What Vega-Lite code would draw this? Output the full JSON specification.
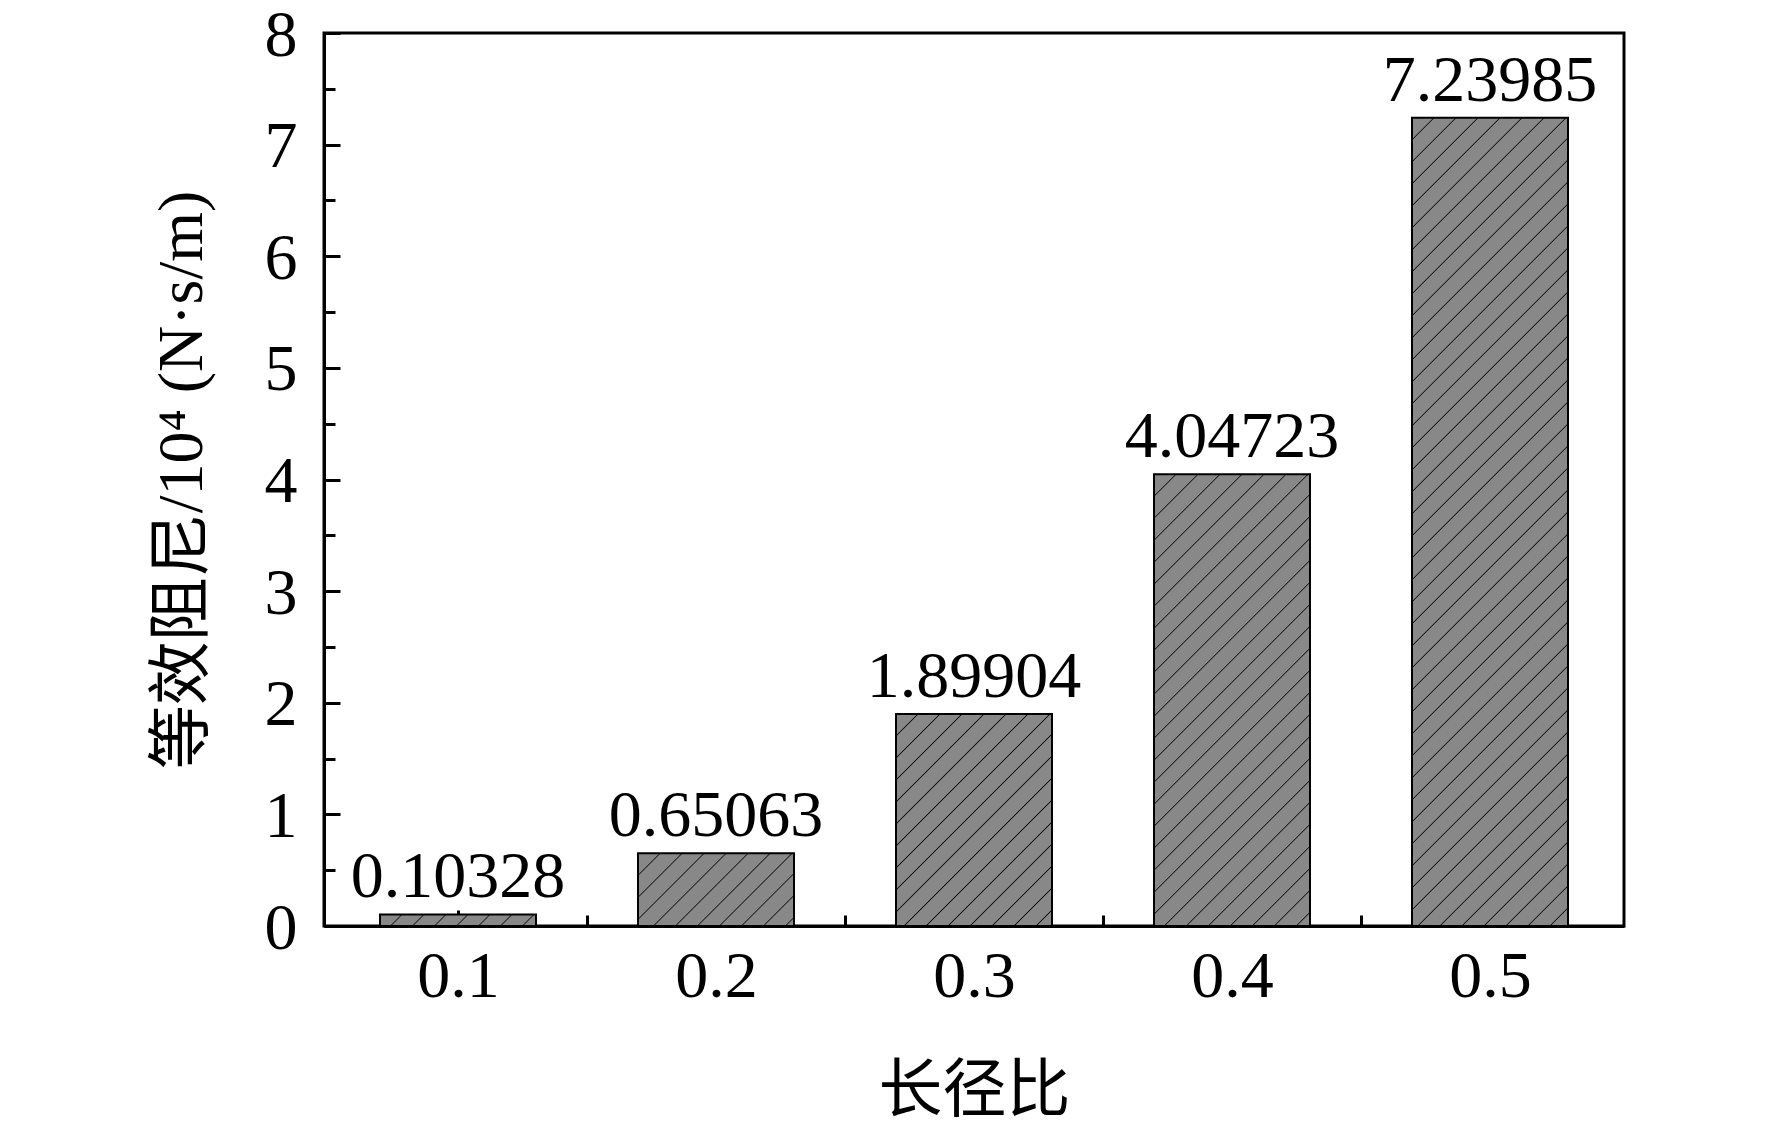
{
  "$schema": "https://vega.github.io/schema/vega-lite/v6.json",
  "autosize": {"type": "none"},
  "padding": {"left": 324, "top": 33, "right": 148, "bottom": 199},
  "width": 1300,
  "height": 893,
  "background": "white",
  "config": {
    "view": {"stroke": "black", "strokeWidth": 3},
    "axis": {
      "domainColor": "black", "domainWidth": 3,
      "tickColor": "black", "tickWidth": 3,
      "labelFont": "Liberation Serif", "labelFontSize": 66, "labelColor": "black",
      "titleFont": "Liberation Serif, Noto Sans CJK SC", "titleFontSize": 64, "titleFontWeight": "normal", "titleColor": "black",
      "grid": false, "labelFlush": false, "labelOverlap": false
    }
  },
  "data": {"values": [
    {"ratio": 0.1, "value": 0.10328},
    {"ratio": 0.2, "value": 0.65063},
    {"ratio": 0.3, "value": 1.89904},
    {"ratio": 0.4, "value": 4.04723},
    {"ratio": 0.5, "value": 7.23985}
  ]},
  "encoding": {
    "x": {"field": "ratio", "type": "quantitative", "title": "长径比",
      "scale": {"domain": [0.05, 0.55], "nice": false, "zero": false},
      "axis": {"values": [0.1, 0.15, 0.2, 0.25, 0.3, 0.35, 0.4, 0.45, 0.5], "format": ".2~f",
        "labelExpr": "length(datum.label) > 3 ? '' : datum.label",
        "tickSize": {"expr": "abs(datum.value * 10 - round(datum.value * 10)) > 0.01 ? -11 : -16"},
        "labelPadding": 34, "titlePadding": 45}},
    "y": {"field": "value", "type": "quantitative", "title": "等效阻尼/10⁴ (N·s/m)",
      "scale": {"domain": [0, 8], "nice": false},
      "axis": {"values": [0, 0.5, 1, 1.5, 2, 2.5, 3, 3.5, 4, 4.5, 5, 5.5, 6, 6.5, 7, 7.5, 8], "format": ".0f",
        "labelExpr": "datum.value % 1 ? '' : datum.label",
        "tickSize": {"expr": "datum.value % 1 ? -11 : -16"},
        "labelPadding": 43, "labelOffset": 2, "titlePadding": 50}}
  },
  "layer": [
    {"transform": [{"filter": "datum.ratio === 0.1"}],
     "mark": {"type": "bar", "orient": "vertical", "width": 156, "stroke": "black", "strokeWidth": 2,
       "fill": {"gradient": "linear", "x1": 0, "y1": 0, "x2": 1.0679, "y2": 0.07892, "stops": [
         {"offset":0.12418,"color":"#888888"},{"offset":0.13134,"color":"#111111"},{"offset":0.13851,"color":"#888888"},
         {"offset":0.25552,"color":"#888888"},{"offset":0.26269,"color":"#111111"},{"offset":0.26985,"color":"#888888"},
         {"offset":0.38687,"color":"#888888"},{"offset":0.39403,"color":"#111111"},{"offset":0.40119,"color":"#888888"},
         {"offset":0.51821,"color":"#888888"},{"offset":0.52537,"color":"#111111"},{"offset":0.53254,"color":"#888888"},
         {"offset":0.64955,"color":"#888888"},{"offset":0.65672,"color":"#111111"},{"offset":0.66388,"color":"#888888"},
         {"offset":0.78090,"color":"#888888"},{"offset":0.78806,"color":"#111111"},{"offset":0.79522,"color":"#888888"},
         {"offset":0.91224,"color":"#888888"},{"offset":0.91940,"color":"#111111"},{"offset":0.92657,"color":"#888888"}
       ]}}},
    {"transform": [{"filter": "datum.ratio === 0.2"}],
     "mark": {"type": "bar", "orient": "vertical", "width": 156, "stroke": "black", "strokeWidth": 2,
       "fill": {"gradient": "linear", "x1": 0, "y1": 0, "x2": 1.20449, "y2": 0.56074, "stops": [
         {"offset":0.09099,"color":"#888888"},{"offset":0.09624,"color":"#111111"},{"offset":0.10149,"color":"#888888"},
         {"offset":0.18723,"color":"#888888"},{"offset":0.19248,"color":"#111111"},{"offset":0.19773,"color":"#888888"},
         {"offset":0.28346,"color":"#888888"},{"offset":0.28871,"color":"#111111"},{"offset":0.29396,"color":"#888888"},
         {"offset":0.37970,"color":"#888888"},{"offset":0.38495,"color":"#111111"},{"offset":0.39020,"color":"#888888"},
         {"offset":0.47594,"color":"#888888"},{"offset":0.48119,"color":"#111111"},{"offset":0.48644,"color":"#888888"},
         {"offset":0.57218,"color":"#888888"},{"offset":0.57743,"color":"#111111"},{"offset":0.58268,"color":"#888888"},
         {"offset":0.66842,"color":"#888888"},{"offset":0.67367,"color":"#111111"},{"offset":0.67892,"color":"#888888"},
         {"offset":0.76465,"color":"#888888"},{"offset":0.76990,"color":"#111111"},{"offset":0.77515,"color":"#888888"},
         {"offset":0.86089,"color":"#888888"},{"offset":0.86614,"color":"#111111"},{"offset":0.87139,"color":"#888888"},
         {"offset":0.95713,"color":"#888888"},{"offset":0.96238,"color":"#111111"},{"offset":0.96763,"color":"#888888"}
       ]}}},
    {"transform": [{"filter": "datum.ratio === 0.3"}],
     "mark": {"type": "bar", "orient": "vertical", "width": 156, "stroke": "black", "strokeWidth": 2,
       "fill": {"gradient": "linear", "x1": 0, "y1": 0, "x2": 0.82869, "y2": 1.12607, "stops": [
         {"offset":0.05652,"color":"#888888"},{"offset":0.05978,"color":"#111111"},{"offset":0.06304,"color":"#888888"},
         {"offset":0.11631,"color":"#888888"},{"offset":0.11957,"color":"#111111"},{"offset":0.12283,"color":"#888888"},
         {"offset":0.17609,"color":"#888888"},{"offset":0.17935,"color":"#111111"},{"offset":0.18261,"color":"#888888"},
         {"offset":0.23587,"color":"#888888"},{"offset":0.23913,"color":"#111111"},{"offset":0.24239,"color":"#888888"},
         {"offset":0.29565,"color":"#888888"},{"offset":0.29891,"color":"#111111"},{"offset":0.30217,"color":"#888888"},
         {"offset":0.35544,"color":"#888888"},{"offset":0.35870,"color":"#111111"},{"offset":0.36196,"color":"#888888"},
         {"offset":0.41522,"color":"#888888"},{"offset":0.41848,"color":"#111111"},{"offset":0.42174,"color":"#888888"},
         {"offset":0.47500,"color":"#888888"},{"offset":0.47826,"color":"#111111"},{"offset":0.48152,"color":"#888888"},
         {"offset":0.53478,"color":"#888888"},{"offset":0.53804,"color":"#111111"},{"offset":0.54130,"color":"#888888"},
         {"offset":0.59457,"color":"#888888"},{"offset":0.59783,"color":"#111111"},{"offset":0.60109,"color":"#888888"},
         {"offset":0.65435,"color":"#888888"},{"offset":0.65761,"color":"#111111"},{"offset":0.66087,"color":"#888888"},
         {"offset":0.71413,"color":"#888888"},{"offset":0.71739,"color":"#111111"},{"offset":0.72065,"color":"#888888"},
         {"offset":0.77391,"color":"#888888"},{"offset":0.77717,"color":"#111111"},{"offset":0.78043,"color":"#888888"},
         {"offset":0.83370,"color":"#888888"},{"offset":0.83696,"color":"#111111"},{"offset":0.84022,"color":"#888888"},
         {"offset":0.89348,"color":"#888888"},{"offset":0.89674,"color":"#111111"},{"offset":0.90000,"color":"#888888"},
         {"offset":0.95326,"color":"#888888"},{"offset":0.95652,"color":"#111111"},{"offset":0.95978,"color":"#888888"}
       ]}}},
    {"transform": [{"filter": "datum.ratio === 0.4"}],
     "mark": {"type": "bar", "orient": "vertical", "width": 156, "stroke": "black", "strokeWidth": 2,
       "fill": {"gradient": "linear", "x1": 0, "y1": 0, "x2": 0.41505, "y2": 1.20198, "stops": [
         {"offset":0.03422,"color":"#888888"},{"offset":0.03620,"color":"#111111"},{"offset":0.03817,"color":"#888888"},
         {"offset":0.07042,"color":"#888888"},{"offset":0.07239,"color":"#111111"},{"offset":0.07437,"color":"#888888"},
         {"offset":0.10661,"color":"#888888"},{"offset":0.10859,"color":"#111111"},{"offset":0.11056,"color":"#888888"},
         {"offset":0.14281,"color":"#888888"},{"offset":0.14478,"color":"#111111"},{"offset":0.14676,"color":"#888888"},
         {"offset":0.17901,"color":"#888888"},{"offset":0.18098,"color":"#111111"},{"offset":0.18295,"color":"#888888"},
         {"offset":0.21520,"color":"#888888"},{"offset":0.21718,"color":"#111111"},{"offset":0.21915,"color":"#888888"},
         {"offset":0.25140,"color":"#888888"},{"offset":0.25337,"color":"#111111"},{"offset":0.25535,"color":"#888888"},
         {"offset":0.28760,"color":"#888888"},{"offset":0.28957,"color":"#111111"},{"offset":0.29154,"color":"#888888"},
         {"offset":0.32379,"color":"#888888"},{"offset":0.32576,"color":"#111111"},{"offset":0.32774,"color":"#888888"},
         {"offset":0.35999,"color":"#888888"},{"offset":0.36196,"color":"#111111"},{"offset":0.36393,"color":"#888888"},
         {"offset":0.39618,"color":"#888888"},{"offset":0.39816,"color":"#111111"},{"offset":0.40013,"color":"#888888"},
         {"offset":0.43238,"color":"#888888"},{"offset":0.43435,"color":"#111111"},{"offset":0.43633,"color":"#888888"},
         {"offset":0.46858,"color":"#888888"},{"offset":0.47055,"color":"#111111"},{"offset":0.47252,"color":"#888888"},
         {"offset":0.50477,"color":"#888888"},{"offset":0.50675,"color":"#111111"},{"offset":0.50872,"color":"#888888"},
         {"offset":0.54097,"color":"#888888"},{"offset":0.54294,"color":"#111111"},{"offset":0.54492,"color":"#888888"},
         {"offset":0.57716,"color":"#888888"},{"offset":0.57914,"color":"#111111"},{"offset":0.58111,"color":"#888888"},
         {"offset":0.61336,"color":"#888888"},{"offset":0.61533,"color":"#111111"},{"offset":0.61731,"color":"#888888"},
         {"offset":0.64956,"color":"#888888"},{"offset":0.65153,"color":"#111111"},{"offset":0.65350,"color":"#888888"},
         {"offset":0.68575,"color":"#888888"},{"offset":0.68773,"color":"#111111"},{"offset":0.68970,"color":"#888888"},
         {"offset":0.72195,"color":"#888888"},{"offset":0.72392,"color":"#111111"},{"offset":0.72590,"color":"#888888"},
         {"offset":0.75814,"color":"#888888"},{"offset":0.76012,"color":"#111111"},{"offset":0.76209,"color":"#888888"},
         {"offset":0.79434,"color":"#888888"},{"offset":0.79631,"color":"#111111"},{"offset":0.79829,"color":"#888888"},
         {"offset":0.83054,"color":"#888888"},{"offset":0.83251,"color":"#111111"},{"offset":0.83448,"color":"#888888"},
         {"offset":0.86673,"color":"#888888"},{"offset":0.86871,"color":"#111111"},{"offset":0.87068,"color":"#888888"},
         {"offset":0.90293,"color":"#888888"},{"offset":0.90490,"color":"#111111"},{"offset":0.90688,"color":"#888888"},
         {"offset":0.93912,"color":"#888888"},{"offset":0.94110,"color":"#111111"},{"offset":0.94307,"color":"#888888"},
         {"offset":0.97532,"color":"#888888"},{"offset":0.97730,"color":"#111111"},{"offset":0.97927,"color":"#888888"}
       ]}}},
    {"transform": [{"filter": "datum.ratio === 0.5"}],
     "mark": {"type": "bar", "orient": "vertical", "width": 156, "stroke": "black", "strokeWidth": 2,
       "fill": {"gradient": "linear", "x1": 0, "y1": 0, "x2": 0.22202, "y2": 1.15017, "stops": [
         {"offset":0.02157,"color":"#888888"},{"offset":0.02282,"color":"#111111"},{"offset":0.02407,"color":"#888888"},
         {"offset":0.04439,"color":"#888888"},{"offset":0.04564,"color":"#111111"},{"offset":0.04689,"color":"#888888"},
         {"offset":0.06721,"color":"#888888"},{"offset":0.06846,"color":"#111111"},{"offset":0.06971,"color":"#888888"},
         {"offset":0.09003,"color":"#888888"},{"offset":0.09128,"color":"#111111"},{"offset":0.09253,"color":"#888888"},
         {"offset":0.11285,"color":"#888888"},{"offset":0.11410,"color":"#111111"},{"offset":0.11535,"color":"#888888"},
         {"offset":0.13567,"color":"#888888"},{"offset":0.13692,"color":"#111111"},{"offset":0.13817,"color":"#888888"},
         {"offset":0.15848,"color":"#888888"},{"offset":0.15973,"color":"#111111"},{"offset":0.16098,"color":"#888888"},
         {"offset":0.18130,"color":"#888888"},{"offset":0.18255,"color":"#111111"},{"offset":0.18380,"color":"#888888"},
         {"offset":0.20412,"color":"#888888"},{"offset":0.20537,"color":"#111111"},{"offset":0.20662,"color":"#888888"},
         {"offset":0.22694,"color":"#888888"},{"offset":0.22819,"color":"#111111"},{"offset":0.22944,"color":"#888888"},
         {"offset":0.24976,"color":"#888888"},{"offset":0.25101,"color":"#111111"},{"offset":0.25226,"color":"#888888"},
         {"offset":0.27258,"color":"#888888"},{"offset":0.27383,"color":"#111111"},{"offset":0.27508,"color":"#888888"},
         {"offset":0.29540,"color":"#888888"},{"offset":0.29665,"color":"#111111"},{"offset":0.29790,"color":"#888888"},
         {"offset":0.31822,"color":"#888888"},{"offset":0.31947,"color":"#111111"},{"offset":0.32072,"color":"#888888"},
         {"offset":0.34104,"color":"#888888"},{"offset":0.34229,"color":"#111111"},{"offset":0.34354,"color":"#888888"},
         {"offset":0.36386,"color":"#888888"},{"offset":0.36511,"color":"#111111"},{"offset":0.36636,"color":"#888888"},
         {"offset":0.38668,"color":"#888888"},{"offset":0.38793,"color":"#111111"},{"offset":0.38918,"color":"#888888"},
         {"offset":0.40950,"color":"#888888"},{"offset":0.41075,"color":"#111111"},{"offset":0.41200,"color":"#888888"},
         {"offset":0.43231,"color":"#888888"},{"offset":0.43356,"color":"#111111"},{"offset":0.43481,"color":"#888888"},
         {"offset":0.45513,"color":"#888888"},{"offset":0.45638,"color":"#111111"},{"offset":0.45763,"color":"#888888"},
         {"offset":0.47795,"color":"#888888"},{"offset":0.47920,"color":"#111111"},{"offset":0.48045,"color":"#888888"},
         {"offset":0.50077,"color":"#888888"},{"offset":0.50202,"color":"#111111"},{"offset":0.50327,"color":"#888888"},
         {"offset":0.52359,"color":"#888888"},{"offset":0.52484,"color":"#111111"},{"offset":0.52609,"color":"#888888"},
         {"offset":0.54641,"color":"#888888"},{"offset":0.54766,"color":"#111111"},{"offset":0.54891,"color":"#888888"},
         {"offset":0.56923,"color":"#888888"},{"offset":0.57048,"color":"#111111"},{"offset":0.57173,"color":"#888888"},
         {"offset":0.59205,"color":"#888888"},{"offset":0.59330,"color":"#111111"},{"offset":0.59455,"color":"#888888"},
         {"offset":0.61487,"color":"#888888"},{"offset":0.61612,"color":"#111111"},{"offset":0.61737,"color":"#888888"},
         {"offset":0.63769,"color":"#888888"},{"offset":0.63894,"color":"#111111"},{"offset":0.64019,"color":"#888888"},
         {"offset":0.66051,"color":"#888888"},{"offset":0.66176,"color":"#111111"},{"offset":0.66301,"color":"#888888"},
         {"offset":0.68333,"color":"#888888"},{"offset":0.68458,"color":"#111111"},{"offset":0.68583,"color":"#888888"},
         {"offset":0.70615,"color":"#888888"},{"offset":0.70740,"color":"#111111"},{"offset":0.70865,"color":"#888888"},
         {"offset":0.72896,"color":"#888888"},{"offset":0.73021,"color":"#111111"},{"offset":0.73146,"color":"#888888"},
         {"offset":0.75178,"color":"#888888"},{"offset":0.75303,"color":"#111111"},{"offset":0.75428,"color":"#888888"},
         {"offset":0.77460,"color":"#888888"},{"offset":0.77585,"color":"#111111"},{"offset":0.77710,"color":"#888888"},
         {"offset":0.79742,"color":"#888888"},{"offset":0.79867,"color":"#111111"},{"offset":0.79992,"color":"#888888"},
         {"offset":0.82024,"color":"#888888"},{"offset":0.82149,"color":"#111111"},{"offset":0.82274,"color":"#888888"},
         {"offset":0.84306,"color":"#888888"},{"offset":0.84431,"color":"#111111"},{"offset":0.84556,"color":"#888888"},
         {"offset":0.86588,"color":"#888888"},{"offset":0.86713,"color":"#111111"},{"offset":0.86838,"color":"#888888"},
         {"offset":0.88870,"color":"#888888"},{"offset":0.88995,"color":"#111111"},{"offset":0.89120,"color":"#888888"},
         {"offset":0.91152,"color":"#888888"},{"offset":0.91277,"color":"#111111"},{"offset":0.91402,"color":"#888888"},
         {"offset":0.93434,"color":"#888888"},{"offset":0.93559,"color":"#111111"},{"offset":0.93684,"color":"#888888"},
         {"offset":0.95716,"color":"#888888"},{"offset":0.95841,"color":"#111111"},{"offset":0.95966,"color":"#888888"},
         {"offset":0.97998,"color":"#888888"},{"offset":0.98123,"color":"#111111"},{"offset":0.98248,"color":"#888888"}
       ]}}},
    {"mark": {"type": "text", "baseline": "alphabetic", "dy": -17, "font": "Liberation Serif", "fontSize": 66, "color": "black"},
     "encoding": {"text": {"field": "value", "type": "quantitative", "format": ".5f"}}}
  ]
}
